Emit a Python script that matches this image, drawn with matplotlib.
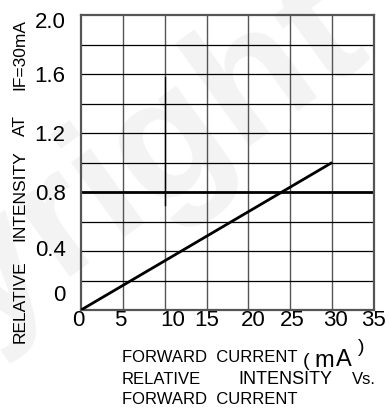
import matplotlib
matplotlib.use('Agg')
import matplotlib.pyplot as plt
from matplotlib.transforms import ScaledTranslation

# Relative intensity vs forward current (normalised at IF=30mA)
current_ma = [0, 30]
rel_intensity = [0.0, 1.0]

x_ticks = [0, 5, 10, 15, 20, 25, 30, 35]
y_ticks = [0, 0.4, 0.8, 1.2, 1.6, 2.0]
y_tick_labels = ['0', '0.4', '0.8', '1.2', '1.6', '2.0']
y_grid = [0.2, 0.4, 0.6, 0.8, 1.0, 1.2, 1.4, 1.6, 1.8]
heavy_y = 0.8
x10_dark_span = [0.71, 1.58]   # darker stretch of the 10 mA gridline

# hand-lettered label offsets in pixels
x_label_dx = [-3, -3, 8, 0, 5, 2, 3, -1]
y_label_dy = [17, 3, 0, 0, 0, -5]

plt.rcParams['font.family'] = ['Liberation Sans', 'DejaVu Sans']

W, H = 389, 416
fig = plt.figure(figsize=(W / 100, H / 100), dpi=100)
ax = fig.add_axes([81 / W, 1 - 310 / H, (374 - 81) / W, (310 - 15) / H])
ax.set_facecolor('none')
ax.set_zorder(2)

# faint watermark behind everything
fig.text(372 / W, 1 - 52 / H, 'Copyright', fontsize=125, fontweight='bold', color='#f3f3f3',
         rotation=36, ha='right', va='baseline', rotation_mode='anchor', zorder=-5)

ax.set_xlim(0, 35)
ax.set_ylim(0, 2.0)

# grid: grey verticals, black horizontals, heavier line at 0.8
for xv in x_ticks[1:-1]:
    ax.axvline(xv, color='#555555', lw=1.0, zorder=1)
ax.plot([10, 10], x10_dark_span, color='black', lw=1.0, zorder=1)
for yv in y_grid:
    ax.axhline(yv, color='black', lw=2.0 if abs(yv - heavy_y) < 1e-9 else 0.9, zorder=1)

ax.plot(current_ma, rel_intensity, color='black', lw=2.0, zorder=3, solid_capstyle='butt')

for s in ax.spines.values():
    s.set_color('#555555')
    s.set_linewidth(1.6)

ax.set_xticks(x_ticks)
ax.set_xticklabels([str(v) for v in x_ticks], fontsize=16)
ax.set_yticks(y_ticks)
ax.set_yticklabels(y_tick_labels, fontsize=16)
ax.tick_params(length=0, pad=0)
ax.tick_params(axis='y', pad=11)

for lab, dx in zip(ax.get_xticklabels(), x_label_dx):
    lab.set_transform(lab.get_transform() + ScaledTranslation(dx / 100, 0, fig.dpi_scale_trans))
for lab, dy in zip(ax.get_yticklabels(), y_label_dy):
    lab.set_transform(lab.get_transform() + ScaledTranslation(0, dy / 100, fig.dpi_scale_trans))

# y-axis title, lettered in spaced words
ylab = dict(rotation=90, fontsize=12.5, ha='center', va='center')
fig.text(20 / W, 1 - 302 / H, 'RELATIVE', **ylab)
fig.text(20 / W, 1 - 196 / H, 'INTENSITY', **ylab)
fig.text(20 / W, 1 - 126 / H, 'AT', **ylab)
fig.text(20 / W, 1 - 54 / H, 'IF=30mA', **ylab)

# caption under the x axis
cap = dict(fontsize=12, ha='left', va='center')
fig.text(122 / W, 1 - 357 / H, 'FORWARD  CURRENT', **cap)
fig.text(303 / W, 1 - 362 / H, '(', fontsize=14, ha='left', va='center')
fig.text(314 / W, 1 - 361 / H, 'm', fontsize=17, ha='left', va='center')
fig.text(336 / W, 1 - 360 / H, 'A', fontsize=17, ha='left', va='center')
fig.text(358 / W, 1 - 347 / H, ')', fontsize=14, ha='left', va='center')
fig.text(122 / W, 1 - 379 / H, 'RELATIVE', **cap)
fig.text(238 / W, 1 - 379 / H, 'INTENSITY', fontsize=13, ha='left', va='center')
fig.text(352 / W, 1 - 379 / H, 'Vs.', **cap)
fig.text(122 / W, 1 - 399 / H, 'FORWARD  CURRENT', **cap)

fig.savefig('out.png', dpi=100)
